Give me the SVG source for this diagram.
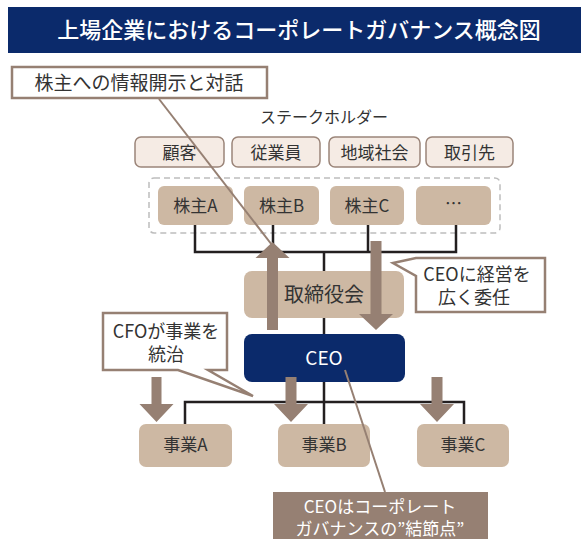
<svg xmlns="http://www.w3.org/2000/svg" width="581" height="539" viewBox="0 0 581 539">
<style>
text{font-family:"Noto Sans CJK JP","Noto Sans",sans-serif;fill:#333;text-anchor:middle}
.tan{fill:#cdb8a3}
.light{fill:#f5ebe4;stroke:#9b8579;stroke-width:1.5}
.call{fill:#fff;stroke:#968073;stroke-width:2.5}
.arr{fill:#968073}
.tree{fill:none;stroke:#231f20;stroke-width:2.5}
.tail{stroke:#968073;stroke-width:2;fill:none}
.t17{font-size:17px}
</style>
<rect width="581" height="539" fill="#fff"/>
<g id="title">
<rect x="8" y="7" width="573" height="46" fill="#0b2a6b"/>
<text x="299" y="38" style="font-size:22px;fill:#fff;font-weight:500">上場企業におけるコーポレートガバナンス概念図</text>
</g>
<g id="callout-disclosure">
<rect class="call" x="12" y="67" width="255" height="31"/>
<text x="139" y="90" style="font-size:19px">株主への情報開示と対話</text>
</g>
<g id="stakeholders">
<text x="324" y="123" style="font-size:16px">ステークホルダー</text>
</g>
<g id="customer"><rect class="light" x="135" y="137" width="89" height="30" rx="6"/><text class="t17" x="179.5" y="159">顧客</text></g>
<g id="employee"><rect class="light" x="232" y="137" width="88" height="30" rx="6"/><text class="t17" x="276" y="159">従業員</text></g>
<g id="community"><rect class="light" x="329" y="137" width="91" height="30" rx="6"/><text class="t17" x="374.5" y="159">地域社会</text></g>
<g id="supplier"><rect class="light" x="426" y="137" width="87" height="30" rx="6"/><text class="t17" x="469.5" y="159">取引先</text></g>
<g id="shareholders">
<rect x="149" y="178" width="351" height="55" rx="5" fill="none" stroke="#bdbdbd" stroke-width="1.5" stroke-dasharray="6,4"/>
</g>
<g id="shA"><rect class="tan" x="158" y="186" width="75" height="39" rx="6"/><text class="t17" x="195.5" y="212">株主A</text></g>
<g id="shB"><rect class="tan" x="244" y="186" width="75" height="39" rx="6"/><text class="t17" x="281.5" y="212">株主B</text></g>
<g id="shC"><rect class="tan" x="330" y="186" width="74" height="39" rx="6"/><text class="t17" x="367" y="212">株主C</text></g>
<g id="shEtc"><rect class="tan" x="416" y="186" width="75" height="39" rx="6"/><text class="t17" x="453.5" y="210">…</text></g>
<g id="board"><rect class="tan" x="244" y="271" width="160" height="47" rx="8"/><text x="324" y="302" style="font-size:20px">取締役会</text></g>
<g id="callout-delegate">
<path class="call" d="M393,263 L416,258 L545,258 L545,312 L416,312 L416,276 Z"/>
<text x="477" y="281" style="font-size:18px">CEOに経営を</text>
<text x="474" y="304" style="font-size:18px">広く委任</text>
</g>
<g id="ceo"><rect x="244" y="334" width="161" height="48" rx="8" fill="#0b2a6b"/><text x="324" y="365" style="font-size:19px;fill:#fff">CEO</text></g>
<g id="callout-cfo">
<path class="call" d="M103,313 L227,313 L227,370 L208,370 L253,396 L178,370 L103,370 Z"/>
<text x="166" y="338" style="font-size:18px">CFOが事業を</text>
<text x="166" y="361" style="font-size:18px">統治</text>
</g>
<g id="bizA"><rect class="tan" x="139" y="424" width="93" height="43" rx="7"/><text class="t17" x="185.5" y="451">事業A</text></g>
<g id="bizB"><rect class="tan" x="278" y="424" width="92" height="43" rx="7"/><text class="t17" x="324" y="451">事業B</text></g>
<g id="bizC"><rect class="tan" x="417" y="424" width="92" height="43" rx="7"/><text class="t17" x="463" y="451">事業C</text></g>
<g id="note-ceo">
<rect x="273" y="492" width="215" height="47" fill="#968073"/>
<text x="380" y="513" style="font-size:17px;fill:#fff">CEOはコーポレート</text>
<text x="380" y="535" style="font-size:17px;fill:#fff">ガバナンスの”結節点”</text>
</g>
<g id="connectors">
<path class="tree" d="M195,225V252H456V225M273,225V252M368,225V252M324,252V271M324,318V334M324,382V402M185,424V402H464V424M324,402V424"/>
<line class="tail" x1="159" y1="99" x2="272" y2="245"/>
<line class="tail" x1="345" y1="370" x2="385" y2="492"/>
<polygon class="arr" points="267,330 278,330 278,258 289.5,258 272.5,242 255.5,258 267,258"/>
<polygon class="arr" points="370.5,241 381.5,241 381.5,314 393,314 376,330 359,314 370.5,314"/>
<polygon class="arr" points="151.5,377 161.5,377 161.5,404 173.5,404 156.5,422 139.5,404 151.5,404"/>
<polygon class="arr" points="285.5,377 296.5,377 296.5,404 308,404 291,422 274,404 285.5,404"/>
<polygon class="arr" points="431.5,377 442.5,377 442.5,404 454,404 437,422 420,404 431.5,404"/>
</g>
</svg>
